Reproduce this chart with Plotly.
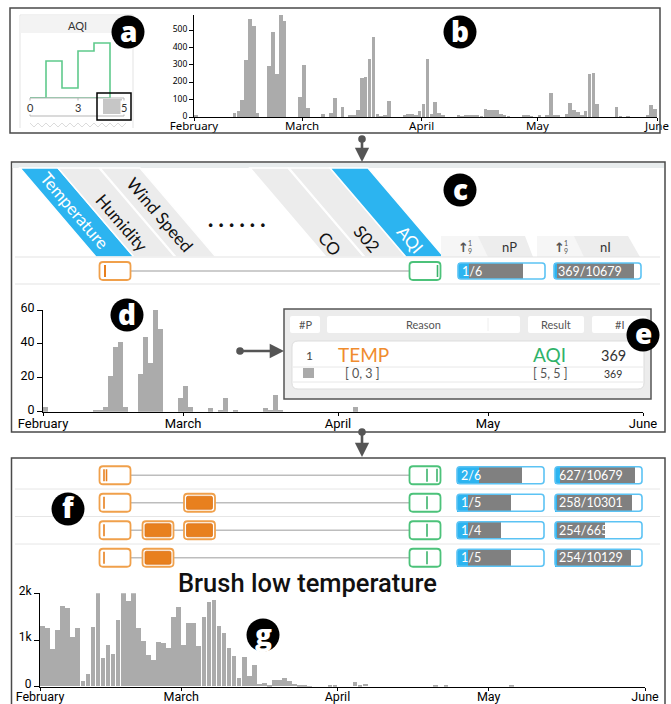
import plotly.graph_objects as go
import pandas as pd

W, H = 671, 704


def X(px):
    return px / W


def Y(py):
    return 1 - py / H


# ---------------- data ----------------
month_names = ["February", "March", "April", "May", "June"]
month_starts = pd.to_datetime(["2014-02-01", "2014-03-01", "2014-04-01", "2014-05-01", "2014-06-01"])
days = pd.date_range("2014-02-01", periods=120, freq="D")
# position of each day / month start, counted in days from February 1
day_pos = [(d - days[0]).days + 0.5 for d in days]
month_pos = [(m - days[0]).days for m in month_starts]

# daily number of records with AQI level 5
aqi5_daily = [
    8, 0, 0, 0, 0, 0, 0, 0, 0, 0,
    23, 37, 97, 328, 566, 525, 21, 0, 0, 292,
    490, 249, 587, 556, 0, 0, 0, 114, 299, 50,
    0, 0, 0, 15, 0, 21, 108, 0, 56, 0,
    8, 10, 39, 222, 230, 332, 463, 15, 5, 13,
    91, 0, 0, 0, 12, 15, 15, 10, 33, 77,
    336, 19, 85, 23, 13, 0, 0, 0, 13, 5,
    13, 8, 13, 12, 5, 45, 38, 38, 38, 17,
    10, 3, 0, 0, 0, 8, 8, 3, 0, 10,
    0, 10, 141, 8, 10, 0, 15, 83, 38, 30,
    10, 33, 249, 253, 77, 0, 0, 0, 0, 56,
    5, 0, 5, 0, 0, 0, 0, 12, 71, 48,
]

# daily records explained by the rule TEMP [0,3] -> AQI [5,5]
rule_daily = [
    3, 0, 0, 0, 0, 0, 0, 0, 0, 0,
    1, 1, 3, 21, 38, 41, 3, 0, 0, 22,
    44, 29, 60, 49, 0, 0, 0, 8, 15, 3,
    0, 0, 0, 2, 0, 1, 8, 0, 1, 0,
    0, 0, 0, 0, 2, 1, 10, 1, 0, 0,
    0, 0, 0, 0, 0, 0, 0, 0, 0, 0,
    0, 0, 3, 0, 0, 0, 0, 0, 0, 0,
    0, 0, 0, 0, 0, 0, 0, 0, 0, 0,
    0, 0, 0, 0, 0, 0, 0, 0, 0, 0,
    0, 0, 0, 0, 0, 0, 0, 0, 0, 0,
    0, 0, 0, 0, 0, 0, 0, 0, 0, 0,
    0, 0, 0, 0, 0, 0, 0, 0, 0, 0,
]

# daily records with low temperature
lowtemp_daily = [
    1290, 1240, 810, 1210, 1730, 1670, 1050, 1260, 110, 260,
    1280, 2040, 610, 890, 690, 1430, 2060, 1830, 2010, 1260,
    970, 680, 560, 960, 940, 830, 1490, 1710, 890, 1360,
    1360, 860, 1480, 1810, 1840, 1300, 1140, 830, 650, 170,
    640, 230, 460, 60, 80, 20, 140, 140, 190, 120,
    60, 30, 20, 5, 0, 0, 0, 10, 10, 0,
    0, 0, 90, 40, 50, 0, 0, 0, 0, 0,
    0, 0, 0, 0, 0, 0, 0, 0, 15, 0,
    15, 0, 0, 0, 0, 0, 0, 0, 0, 0,
    0, 0, 0, 25, 0, 0, 0, 0, 0, 0,
    0, 0, 0, 0, 0, 0, 0, 0, 0, 0,
    0, 0, 0, 0, 0, 0, 0, 0, 0, 0,
]

# AQI level distribution (step outline)
aqi_levels = [0, 1, 2, 3, 4, 5]
aqi_level_counts = [0, 37, 10, 47, 55, 0]
aqi_tick_labels = ["0", "3", "5"]

attributes = ["Temperature", "Humidity", "Wind Speed", "CO", "S02", "AQI"]
highlighted = ["Temperature", "AQI"]

# rule in panel c
c_np = [1]
c_np_total = [6]
c_ni = [369]
c_ni_total = [10679]

# refined rules in panel f
f_np = [2, 1, 1, 1]
f_np_total = [6, 5, 4, 5]
f_ni = [627, 258, 254, 254]
f_ni_total = [10679, 10301, 6658, 10129]
f_brushed = [[], ["Wind Speed"], ["Humidity", "Wind Speed"], ["Humidity"]]

rule_reason, rule_reason_range = "TEMP", "[ 0, 3 ]"
rule_result, rule_result_range = "AQI", "[ 5, 5 ]"
rule_count = 369

# ---------------- style ----------------
BLUE = "#2cb4f0"
BLUE_EDGE = "#5cc3f4"
ORANGE = "#f0a04b"
ORANGE_FILL = "#e8801e"
GREEN = "#4cc27a"
BAR_GRAY = "#ababab"
FRAME = "#4a4a4a"

shapes = []
annotations = []
traces = []
layout = {}


def pth(points, close=True):
    s = "M " + " L ".join(f"{X(px):.5f},{Y(py):.5f}" for px, py in points)
    return s + (" Z" if close else "")


def rr_path(x0, y0, x1, y1, r):
    seg = [("M", x0 + r, y0), ("L", x1 - r, y0), ("Q", x1, y0, x1, y0 + r), ("L", x1, y1 - r),
           ("Q", x1, y1, x1 - r, y1), ("L", x0 + r, y1), ("Q", x0, y1, x0, y1 - r),
           ("L", x0, y0 + r), ("Q", x0, y0, x0 + r, y0)]
    out = []
    for s in seg:
        c = s[1:]
        out.append(s[0] + " " + " ".join(f"{X(c[i]):.5f},{Y(c[i + 1]):.5f}" for i in range(0, len(c), 2)))
    return " ".join(out) + " Z"


def add_path(path, fill="rgba(0,0,0,0)", color="rgba(0,0,0,0)", width=0):
    shapes.append(dict(type="path", xref="paper", yref="paper", path=path, fillcolor=fill,
                       line=dict(color=color, width=width), layer="above"))


def add_rect(x0, y0, x1, y1, fill="rgba(0,0,0,0)", color="rgba(0,0,0,0)", width=0):
    shapes.append(dict(type="rect", xref="paper", yref="paper", x0=X(x0), x1=X(x1), y0=Y(y1), y1=Y(y0),
                       fillcolor=fill, line=dict(color=color, width=width), layer="above"))


def add_line(x0, y0, x1, y1, color, width=1):
    shapes.append(dict(type="line", xref="paper", yref="paper", x0=X(x0), x1=X(x1), y0=Y(y0), y1=Y(y1),
                       line=dict(color=color, width=width), layer="above"))


def add_circle(cx, cy, r, fill):
    shapes.append(dict(type="circle", xref="paper", yref="paper", x0=X(cx - r), x1=X(cx + r),
                       y0=Y(cy + r), y1=Y(cy - r), fillcolor=fill,
                       line=dict(color=fill, width=0), layer="above"))


def add_text(px, py, text, size=12, color="#222", family="Lato", anchor="center", angle=0, weight=None, bg=None):
    font = dict(size=size, color=color, family=family)
    if weight:
        font["weight"] = weight
    a = dict(xref="paper", yref="paper", x=X(px), y=Y(py), text=text, showarrow=False,
             font=font, xanchor=anchor, yanchor="middle", textangle=angle, borderpad=0)
    if bg:
        a["bgcolor"] = bg
    annotations.append(a)


def badge(cx, cy, letter):
    add_circle(cx, cy, 16.5, "black")
    add_text(cx, cy - 1.5, letter, size=28, color="white", family="Open Sans", weight=800)


def arrow(x0, y0, x1, y1):
    add_circle(x0, y0, 3.8, "#555555")
    annotations.append(dict(xref="paper", yref="paper", x=X(x1), y=Y(y1), ax=x0 - x1, ay=y0 - y1,
                            axref="pixel", ayref="pixel", text="", showarrow=True, arrowhead=2,
                            arrowsize=1.1, arrowwidth=2.6, arrowcolor="#555555"))


def day_axes(n, x0, x1, ybase, ytop, yrange, ytickvals, yticktext, xfont, yfont,
             xticklen, yticklen, standoff, yshift):
    layout[f"xaxis{n}"] = dict(domain=[X(x0), X(x1)], anchor=f"y{n}", type="linear",
                               range=[month_pos[0], month_pos[-1]],
                               tickvals=month_pos, ticktext=month_names, automargin=False,
                               showline=True, linecolor="black", linewidth=1, ticks="outside",
                               ticklen=xticklen, tickcolor="black", showgrid=False, zeroline=False,
                               tickfont=xfont, ticklabelstandoff=standoff)
    layout[f"yaxis{n}"] = dict(domain=[Y(ybase), Y(ytop)], anchor=f"x{n}", range=yrange,
                               tickvals=ytickvals, ticktext=yticktext, showline=True, automargin=False,
                               linecolor="black", linewidth=1, ticks="outside", ticklen=yticklen,
                               tickcolor="black", showgrid=False, zeroline=False, tickfont=yfont,
                               ticklabelshift=yshift)


def day_bars(values, n):
    traces.append(go.Bar(x=day_pos, y=values, width=0.92,
                         marker=dict(color=BAR_GRAY, line=dict(width=0)),
                         xaxis=f"x{n}", yaxis=f"y{n}", hoverinfo="skip"))


def gauges(n, left, right, row_top, pitch, bar_h, counts, totals, xmax):
    rows = len(counts)
    layout[f"xaxis{n}"] = dict(domain=[X(left), X(right)], anchor=f"y{n}", range=[0, xmax],
                               visible=False, automargin=False)
    layout[f"yaxis{n}"] = dict(domain=[Y(row_top + rows * pitch), Y(row_top)], anchor=f"x{n}",
                               range=[rows - 0.5, -0.5], visible=False, automargin=False)
    ys = list(range(rows))
    traces.append(go.Bar(x=totals, y=ys, orientation="h", width=bar_h / pitch,
                         marker=dict(color="#808080", line=dict(width=0)),
                         xaxis=f"x{n}", yaxis=f"y{n}", hoverinfo="skip"))
    traces.append(go.Bar(x=counts, y=ys, orientation="h", width=bar_h / pitch,
                         marker=dict(color=BLUE, line=dict(width=0)),
                         xaxis=f"x{n}", yaxis=f"y{n}", hoverinfo="skip"))
    for i, (k, t) in enumerate(zip(counts, totals)):
        cy = row_top + pitch * (i + 0.5)
        add_path(rr_path(left, cy - bar_h / 2, right, cy + bar_h / 2, 3), color=BLUE_EDGE, width=1.6)
        add_text(left + 3, cy, f"{k}/{t}", size=12.5, color="white", anchor="left")


def slider(cx, cy, color, filled=False):
    add_path(rr_path(cx - 15.5, cy - 9, cx + 15.5, cy + 9, 3.5), fill="white", color=color, width=1.8)
    if filled:
        add_path(rr_path(cx - 13, cy - 6.5, cx + 13, cy + 6.5, 1.5), fill=ORANGE_FILL, color="#d9741a", width=0.8)


# ================= panel a / b frame =================
add_rect(10, 8, 660, 133, color=FRAME, width=1.5)

# card of the AQI attribute
add_path(pth([(20, 128), (20, 15), (133, 15), (133, 128)], close=False), color="#e3e3e3", width=1)
add_rect(20.5, 15.5, 132.5, 33, fill="#f3f3f3")
add_text(77, 25, "AQI", size=11, color="#333", family="Lato")
zig = [(30 + 4 * i, 123 if i % 2 == 0 else 127) for i in range(25)]
add_path(pth(zig, close=False), color="#dcdcdc", width=1)

layout["xaxis"] = dict(domain=[X(30), X(126)], anchor="y", range=[0, 6], visible=False, automargin=False)
layout["yaxis"] = dict(domain=[Y(98), Y(38)], anchor="x", range=[0, 60], visible=False, automargin=False)
traces.append(go.Scatter(x=[aqi_levels[0], aqi_levels[-1]], y=[0, 0], mode="lines",
                         line=dict(color="#5fca8c", width=1.6), xaxis="x", yaxis="y", hoverinfo="skip"))
traces.append(go.Scatter(x=aqi_levels, y=aqi_level_counts, mode="lines",
                         line=dict(color="#5fca8c", width=1.6, shape="hv"), xaxis="x", yaxis="y",
                         hoverinfo="skip"))
# slider scale of the card
add_line(30, 98, 124, 98, "#b5b5b5", 1)
add_line(30, 116, 124, 116, "#b5b5b5", 1)
add_line(30, 98, 30, 116, "#b5b5b5", 1)
add_line(124, 98, 124, 116, "#b5b5b5", 1)
add_line(78, 98, 78, 102, "#b5b5b5", 1)
for px, lab in zip([30, 78, 124], aqi_tick_labels):
    add_text(px, 107, lab, size=11, color="#333", family="Lato", bg="white")
add_rect(103, 99, 122, 114, fill="#c6c6c6")
add_rect(97, 93, 131, 120, color="black", width=1.5)
badge(128, 32, "a")

# histogram b
day_axes(2, 194, 657, 117, 15, [0, 588], [0, 100, 200, 300, 400, 500],
         ["0", "100", "200", "300", "400", "500"],
         dict(family="Noto Sans", size=11.5, color="black"),
         dict(family="Noto Sans", size=8.5, color="black"), 3, 4, -5, -1)
day_bars(aqi5_daily, 2)
badge(460, 32, "b")

arrow(362, 139, 362, 162)

# ================= panel c / d frame =================
add_rect(11.5, 162, 665, 432, color=FRAME, width=1.5)
add_rect(12.5, 163, 664, 168, fill="#e8eced")

col_top_left = {"Temperature": 20, "Humidity": 58, "Wind Speed": 100, "CO": 250, "S02": 289, "AQI": 330}
col_top_right = {"Temperature": 58, "Humidity": 99, "Wind Speed": 140, "CO": 288, "S02": 330, "AQI": 368}
label_pos = {"Temperature": (75, 210), "Humidity": (122, 222), "Wind Speed": (160, 214),
             "CO": (330, 243), "S02": (367, 238), "AQI": (410, 240)}
SLANT = 76
for name in attributes:
    t0, t1 = col_top_left[name], col_top_right[name]
    hot = name in highlighted
    add_path(pth([(t0, 168), (t1, 168), (t1 + SLANT, 257), (t0 + SLANT, 257)]),
             fill=BLUE if hot else "#ececec", color="white", width=1.5)
    lx, ly = label_pos[name]
    add_text(lx, ly, name, size=17, color="white" if hot else "#111", family="Lato", angle=49.5)
add_text(237, 219, ". . . . . .", size=22, color="#111", family="Lato", weight=900)

# tabs of the gauge columns
for l, tr, br, lab, ix in [(441, 525, 533, "nP", 510), (537, 628, 640, "nI", 605)]:
    add_path(pth([(l, 257), (l, 236), (tr, 236), (br, 257)]), fill="#ededed")
    add_path(pth([(l, 257), (l, 236), (l + 37, 236), (l + 47, 257)]), fill="#f6f6f6")
    add_text(ix, 247, lab, size=13, color="#333", family="Lato")
    add_text(l + 22, 247, "<b>↑</b>", size=13, color="#555", family="DejaVu Sans")
    add_text(l + 29, 243, "1", size=7, color="#555", family="Lato")
    add_text(l + 29, 251, "9", size=7, color="#555", family="Lato")

add_line(15, 257, 660, 257, "#e3e3e3", 1)
add_line(15, 284, 660, 284, "#e3e3e3", 1)

slider_cx = {"Temperature": 115, "Humidity": 158, "Wind Speed": 199.5, "AQI": 425}

# rule row of panel c
cy = 271
add_line(slider_cx["Temperature"] + 15.5, cy, slider_cx["AQI"] - 15.5, cy, "#bdbdbd", 1.6)
slider(slider_cx["Temperature"], cy, ORANGE)
add_line(slider_cx["Temperature"] - 10, cy - 6, slider_cx["Temperature"] - 10, cy + 6, "#e8801e", 2)
slider(slider_cx["AQI"], cy, GREEN)
add_line(slider_cx["AQI"] + 12.5, cy - 6, slider_cx["AQI"] + 12.5, cy + 6, "#3cb46c", 1.6)
gauges(5, 458, 545, 257, 28, 16, c_np, c_np_total, 8)
gauges(6, 554, 641, 257, 28, 16, c_ni, c_ni_total, 11600)
badge(460, 190, "c")

# histogram d
day_axes(3, 43, 643, 411.7, 310, [0, 60], [0, 20, 40, 60], ["0", "20", "40", "60"],
         dict(family="Roboto", size=13, color="black"), dict(family="Roboto", size=12.5, color="black"),
         3, 5, -3, -2)
day_bars(rule_daily, 3)
badge(127, 315, "d")

# rule detail panel e
add_rect(284, 309, 651, 399, fill="#ececec", color="#555555", width=1.5)
for x0, x1, lab in [(290, 320, "#P"), (327, 520, "Reason"), (528, 584, "Result"), (592, 647, "#I")]:
    add_path(rr_path(x0, 316, x1, 333, 2), fill="white")
    add_text((x0 + x1) / 2, 324.5, lab, size=11, color="#555", family="Lato")
add_line(488, 318, 488, 331, "#eeeeee", 1)
add_path(rr_path(292, 341, 644, 389, 6), fill="white", color="#dddddd", width=1)
add_line(293, 367, 643, 367, "#e8e8e8", 1)
add_line(293, 382, 643, 382, "#e8e8e8", 1)
add_rect(303, 368, 314, 378, fill="#aaaaaa")
add_text(309, 355, "1", size=12, color="#444", family="Lato")
add_text(337, 354, rule_reason, size=19, color="#f08c2e", family="Lato", anchor="left")
add_text(532, 354, rule_result, size=19, color="#2fb36a", family="Lato", anchor="left")
add_text(613, 355, str(rule_count), size=14.5, color="#333", family="Lato")
add_text(362, 373, rule_reason_range, size=12.5, color="#555", family="Lato")
add_text(550, 373, rule_result_range, size=12.5, color="#555", family="Lato")
add_text(613, 374, str(rule_count), size=10.5, color="#333", family="Lato")
badge(643, 335, "e")
arrow(240, 351, 284, 351)

arrow(362, 432, 362, 457)

# ================= panel f / g frame =================
add_rect(11.5, 458, 665, 712, color=FRAME, width=1.5)
ROW_TOP, PITCH = 461.5, 27.5
for i in range(1, len(f_np)):
    add_line(15, ROW_TOP + PITCH * i, 660, ROW_TOP + PITCH * i, "#e6e6e6", 1)
for i, brushed in enumerate(f_brushed):
    cy = ROW_TOP + PITCH * (i + 0.5)
    add_line(slider_cx["Temperature"] + 15.5, cy, slider_cx["AQI"] - 15.5, cy, "#bdbdbd", 1.6)
    slider(slider_cx["Temperature"], cy, ORANGE)
    tx = slider_cx["Temperature"] - 11
    add_line(tx, cy - 6, tx, cy + 6, "#e8801e", 1.6)
    if i == 0:
        add_line(tx + 2.5, cy - 6, tx + 2.5, cy + 6, "#e8801e", 1.6)
    for name in brushed:
        slider(slider_cx[name], cy, ORANGE, filled=True)
    slider(slider_cx["AQI"], cy, GREEN)
    add_line(slider_cx["AQI"] + 2, cy - 6.5, slider_cx["AQI"] + 2, cy + 6.5, "#3cb46c", 1.6)
    if i == 0:
        add_line(slider_cx["AQI"] + 12, cy - 6.5, slider_cx["AQI"] + 12, cy + 6.5, "#3cb46c", 1.6)
gauges(7, 457, 544, ROW_TOP, PITCH, 17, f_np, f_np_total, 8)
gauges(8, 555, 642, ROW_TOP, PITCH, 17, f_ni, f_ni_total, 11600)
badge(68, 509, "f")

add_text(177, 583, "Brush low temperature", size=25.5, color="#111", family="Roboto", anchor="left", weight=500)

# histogram g
day_axes(4, 40, 645, 686.7, 593.3, [0, 2000], [0, 1000, 2000], ["0", "1k", "2k"],
         dict(family="Roboto", size=12.5, color="black"), dict(family="Roboto", size=12, color="black"),
         3, 5, -5, -3)
day_bars(lowtemp_daily, 4)
badge(263, 635, "g")

fig = go.Figure(data=traces)
fig.update_layout(**layout)
fig.update_layout(template="none", width=W, height=H, margin=dict(l=0, r=0, t=0, b=0, pad=0),
                  autosize=False, paper_bgcolor="white", plot_bgcolor="white", showlegend=False,
                  barmode="overlay", bargap=0, shapes=shapes, annotations=annotations)
fig.write_html("out.html")
